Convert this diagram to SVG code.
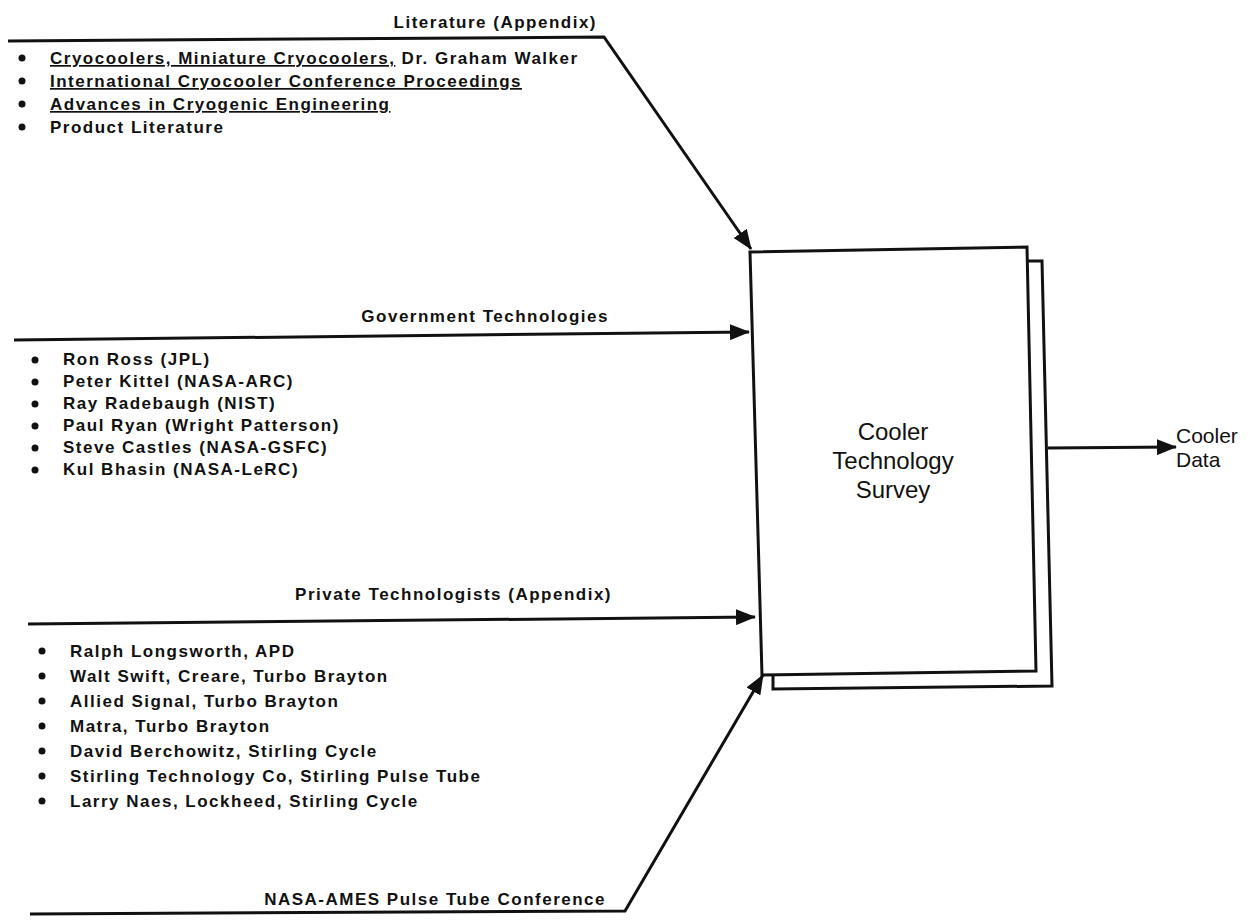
<svg xmlns="http://www.w3.org/2000/svg" width="1258" height="920" viewBox="0 0 1258 920">
<defs>
<style>
.t{font-family:"Liberation Sans",Arial,sans-serif;font-weight:bold;font-size:17px;letter-spacing:1.5px;fill:#111}
.u{text-decoration:underline}
.box{fill:#fff;stroke:#111;stroke-width:3;stroke-linejoin:miter}
.ln{fill:none;stroke:#111;stroke-width:3}
.bt{font-family:"Liberation Sans",Arial,sans-serif;font-size:24px;fill:#111;text-anchor:middle}
.ot{font-family:"Liberation Sans",Arial,sans-serif;font-size:21px;fill:#111}
.b{fill:#111}
</style>
<marker id="ah" viewBox="0 0 20 16" refX="19" refY="8" markerWidth="20" markerHeight="16" markerUnits="userSpaceOnUse" orient="auto">
<path d="M0,0 L20,8 L0,16 Z" fill="#111"/>
</marker>
</defs>
<rect width="1258" height="920" fill="#fff"/>

<g id="survey">
<path class="box" d="M1027,261 L1042,261 L1052,686 L773,689 L773,676"/>
<polygon class="box" points="750,252 1027,247 1036,671 762,675"/>
<text class="bt" x="893" y="440">Cooler</text>
<text class="bt" x="893" y="469">Technology</text>
<text class="bt" x="893" y="498">Survey</text>
</g>

<g id="connectors">
<path class="ln" d="M8,41 L604,37 L751,249" marker-end="url(#ah)"/>
<path class="ln" d="M14,340 L749,332" marker-end="url(#ah)"/>
<path class="ln" d="M28,624 L755,617" marker-end="url(#ah)"/>
<path class="ln" d="M30,914 L625,911 L763,675" marker-end="url(#ah)"/>
<path class="ln" d="M1048,448 L1176,447" marker-end="url(#ah)"/>
</g>

<g id="literature">
<text class="t" x="597" y="28" text-anchor="end">Literature (Appendix)</text>
<circle class="b" cx="22" cy="58" r="3.5"/>
<circle class="b" cx="22" cy="81" r="3.5"/>
<circle class="b" cx="22" cy="104" r="3.5"/>
<circle class="b" cx="22" cy="127" r="3.5"/>
<text class="t" x="50" y="64"><tspan class="u">Cryocoolers, Miniature Cryocoolers,</tspan> Dr. Graham Walker</text>
<text class="t u" x="50" y="87">International Cryocooler Conference Proceedings</text>
<text class="t u" x="50" y="110">Advances in Cryogenic Engineering</text>
<text class="t" x="50" y="133">Product Literature</text>
</g>

<g id="government">
<text class="t" x="609" y="322" text-anchor="end">Government Technologies</text>
<circle class="b" cx="35" cy="360" r="3.5"/>
<circle class="b" cx="35" cy="382" r="3.5"/>
<circle class="b" cx="35" cy="404" r="3.5"/>
<circle class="b" cx="35" cy="426" r="3.5"/>
<circle class="b" cx="35" cy="448" r="3.5"/>
<circle class="b" cx="35" cy="470" r="3.5"/>
<text class="t" x="63" y="365">Ron Ross (JPL)</text>
<text class="t" x="63" y="387">Peter Kittel (NASA-ARC)</text>
<text class="t" x="63" y="409">Ray Radebaugh  (NIST)</text>
<text class="t" x="63" y="431">Paul Ryan (Wright Patterson)</text>
<text class="t" x="63" y="453">Steve Castles (NASA-GSFC)</text>
<text class="t" x="63" y="475">Kul Bhasin (NASA-LeRC)</text>
</g>

<g id="private">
<text class="t" x="612" y="600" text-anchor="end">Private Technologists (Appendix)</text>
<circle class="b" cx="42" cy="651" r="3.5"/>
<circle class="b" cx="42" cy="676" r="3.5"/>
<circle class="b" cx="42" cy="701" r="3.5"/>
<circle class="b" cx="42" cy="726" r="3.5"/>
<circle class="b" cx="42" cy="751" r="3.5"/>
<circle class="b" cx="42" cy="776" r="3.5"/>
<circle class="b" cx="42" cy="801" r="3.5"/>
<text class="t" x="70" y="657">Ralph Longsworth, APD</text>
<text class="t" x="70" y="682">Walt Swift, Creare, Turbo Brayton</text>
<text class="t" x="70" y="707">Allied Signal, Turbo Brayton</text>
<text class="t" x="70" y="732">Matra, Turbo Brayton</text>
<text class="t" x="70" y="757">David Berchowitz, Stirling Cycle</text>
<text class="t" x="70" y="782">Stirling Technology Co, Stirling Pulse Tube</text>
<text class="t" x="70" y="807">Larry Naes, Lockheed, Stirling Cycle</text>
</g>

<g id="nasa-ames">
<text class="t" x="606" y="905" text-anchor="end">NASA-AMES Pulse Tube Conference</text>
</g>

<g id="output">
<text class="ot" x="1176" y="443">Cooler</text>
<text class="ot" x="1176" y="467">Data</text>
</g>
</svg>
